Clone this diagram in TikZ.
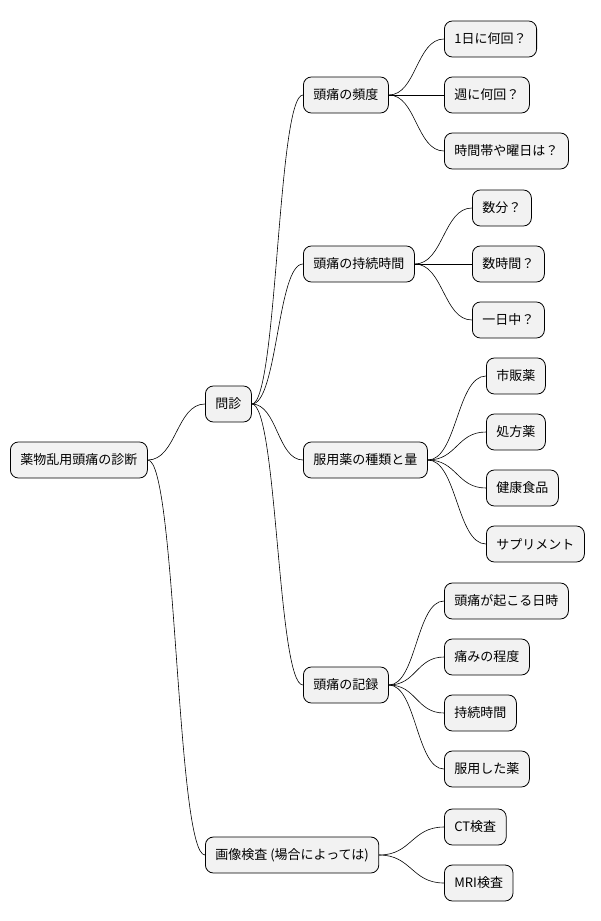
\documentclass[tikz,border=0pt]{standalone}
\usepackage{fontspec}
\setmainfont{Noto Sans CJK JP}
\usetikzlibrary{calc}
\begin{document}
\begin{tikzpicture}[x=1pt,y=-1pt,
  mm/.style={draw=black,fill=black!5,rounded corners=8pt,minimum height=36pt,inner xsep=10pt,anchor=west,font=\fontsize{13}{15}\selectfont,line width=0.8pt},
  cn/.style={draw=black,line width=0.6pt}]
\useasboundingbox (0,0) rectangle (600,921);
\node[mm] (r) at (10,460) {薬物乱用頭痛の診断};
\node[mm] (m) at (205,404) {問診};
\node[mm] (g) at (205,855) {画像検査 (場合によっては)};
\node[mm] (a) at (303,95) {頭痛の頻度};
\node[mm] (b) at (303,264) {頭痛の持続時間};
\node[mm] (c) at (303,460) {服用薬の種類と量};
\node[mm] (d) at (303,685) {頭痛の記録};
\node[mm] (a1) at (444,39) {1日に何回？};
\node[mm] (a2) at (444,95) {週に何回？};
\node[mm] (a3) at (444,151) {時間帯や曜日は？};
\node[mm] (b1) at (472,208) {数分？};
\node[mm] (b2) at (472,264) {数時間？};
\node[mm] (b3) at (472,320) {一日中？};
\node[mm] (c1) at (486,376) {市販薬};
\node[mm] (c2) at (486,432) {処方薬};
\node[mm] (c3) at (486,488) {健康食品};
\node[mm] (c4) at (486,544) {サプリメント};
\node[mm] (d1) at (444,601) {頭痛が起こる日時};
\node[mm] (d2) at (444,657) {痛みの程度};
\node[mm] (d3) at (444,713) {持続時間};
\node[mm] (d4) at (444,769) {服用した薬};
\node[mm] (g1) at (444,827) {CT検査};
\node[mm] (g2) at (444,883) {MRI検査};
\foreach \aa/\bb in {r/m,r/g,m/a,m/b,m/c,m/d,a/a1,a/a2,a/a3,b/b1,b/b2,b/b3,c/c1,c/c2,c/c3,c/c4,d/d1,d/d2,d/d3,d/d4,g/g1,g/g2}{
  \draw[cn] let \p1=(\aa.east), \p2=(\bb.west), \n1={(\x2-\x1)/2} in (\p1) .. controls +(\n1,0) and +(-\n1,0) .. (\p2);
}
\end{tikzpicture}
\end{document}
